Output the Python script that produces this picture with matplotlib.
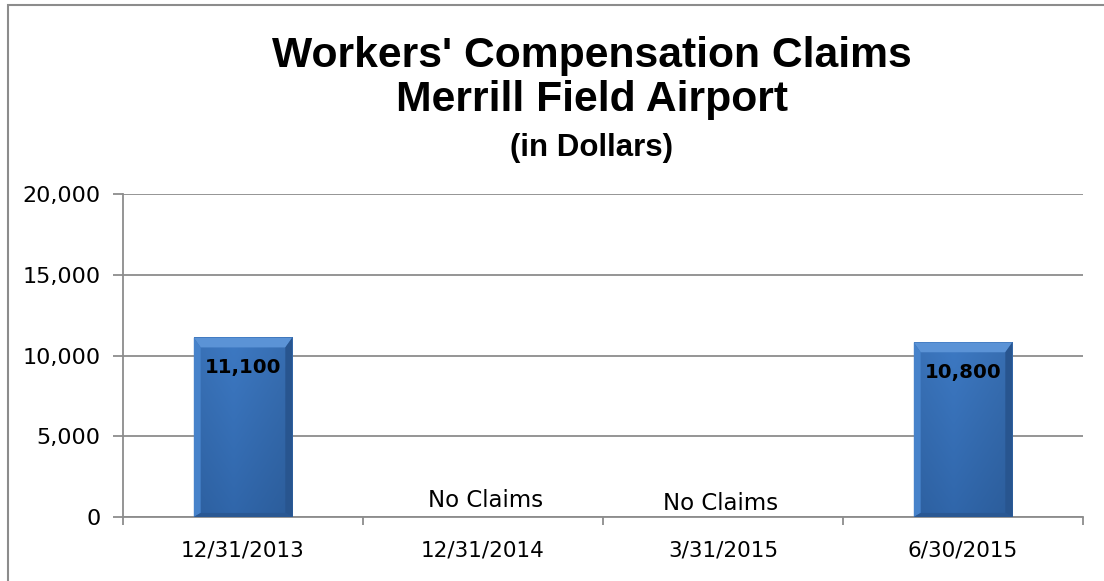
import numpy as np
import matplotlib
matplotlib.use("Agg")
from matplotlib import pyplot as plt
from matplotlib.patches import Rectangle, Polygon
from matplotlib.colors import to_rgb

# Data
categories = ["12/31/2013", "12/31/2014", "3/31/2015", "6/30/2015"]
values = [11100, 0, 0, 10800]
value_labels = ["11,100", "No Claims", "No Claims", "10,800"]
y_ticks = [0, 5000, 10000, 15000, 20000]
y_tick_labels = ["0", "5,000", "10,000", "15,000", "20,000"]

W, H = 1104, 581
fig = plt.figure(figsize=(W / 100, H / 100), dpi=100)

# outer chart frame (cut off at right and bottom like the source)
fig.patches.append(Rectangle((8 / W, -0.1), 1.2, (H - 5) / H + 0.1,
                             transform=fig.transFigure, fill=False,
                             edgecolor="#8c8c8c", linewidth=1.5))

ax = fig.add_axes([123 / W, (H - 517) / H, 960 / W, 323 / H])

x = np.arange(len(categories))
bar_w = 0.41
bars = ax.bar(x, values, width=bar_w, color="#3368ad", edgecolor="none", zorder=3)

# gradient fill + bevel for each bar
top_c = np.array(to_rgb("#3d79c3"))
bot_c = np.array(to_rgb("#3066aa"))
for b in bars:
    bh = b.get_height()
    if bh <= 0:
        continue
    bx, bw = b.get_x(), b.get_width()
    t = np.linspace(0, 1, 120)[:, None, None]
    img = top_c * (1 - t) + bot_c * t
    s = np.linspace(0, 1, 60)[None, :, None]
    shade = 1.0 - 0.08 * np.abs(s - 0.4) * 2
    img = np.clip(img * shade, 0, 1)
    ax.imshow(img, extent=(bx, bx + bw, 0, bh), aspect="auto", origin="upper",
              zorder=3, interpolation="bilinear")
    e = bw * 0.07
    ev_top = 600
    ev = 250
    # top bevel (light)
    ax.add_patch(Polygon([(bx, bh), (bx + bw, bh), (bx + bw - e, bh - ev_top), (bx + e, bh - ev_top)],
                         closed=True, facecolor="#5b93d6", edgecolor="none", zorder=3.5))
    # left bevel (light)
    ax.add_patch(Polygon([(bx, 0), (bx, bh), (bx + e, bh - ev_top), (bx + e, ev)],
                         closed=True, facecolor="#4682ca", edgecolor="none", zorder=3.5))
    # right bevel (dark)
    ax.add_patch(Polygon([(bx + bw, 0), (bx + bw, bh), (bx + bw - e, bh - ev_top), (bx + bw - e, ev)],
                         closed=True, facecolor="#28558f", edgecolor="none", zorder=3.5))
    # bottom bevel (dark)
    ax.add_patch(Polygon([(bx, 0), (bx + bw, 0), (bx + bw - e, ev), (bx + e, ev)],
                         closed=True, facecolor="#2a5893", edgecolor="none", zorder=3.5))

for xi, v, lab in zip(x, values, value_labels):
    if v > 0:
        ax.text(xi, v - 1850, lab, ha="center", va="center", fontsize=14.3,
                fontweight="bold", color="black", zorder=4)
    else:
        ax.annotate(lab, (xi, v), xytext=(2 if xi == 1 else -2, 12 if xi == 1 else 9.5),
                    textcoords="offset points", ha="center", va="center",
                    fontsize=16.5, color="black")

ax.set_ylim(0, 20000)
ax.set_xlim(-0.5, 3.5)
ax.set_yticks(y_ticks)
ax.set_yticklabels(y_tick_labels, fontsize=16)
ax.set_xticks(x)
ax.set_xticklabels(categories, fontsize=15.5)
ax.set_xticks(np.arange(-0.5, 4, 1), minor=True)
ax.tick_params(axis="x", which="major", length=0, pad=17)
ax.tick_params(axis="x", which="minor", length=6, width=1.3, color="#8c8c8c")
ax.tick_params(axis="y", length=7, width=1.3, color="#8c8c8c", pad=9)

ax.grid(axis="y", color="#8c8c8c", linewidth=1.3, zorder=0)
ax.set_axisbelow(True)
for s in ["top", "right"]:
    ax.spines[s].set_visible(False)
for s in ["left", "bottom"]:
    ax.spines[s].set_color("#8c8c8c")
    ax.spines[s].set_linewidth(1.3)

fig.text(592 / W, 1 - 56 / H, "Workers' Compensation Claims", ha="center", va="center",
         fontsize=30.7, fontweight="bold", family="Liberation Sans")
fig.text(592 / W, 1 - 100 / H, "Merrill Field Airport", ha="center", va="center",
         fontsize=30.7, fontweight="bold", family="Liberation Sans")
fig.text(592 / W, 1 - 148 / H, "(in Dollars)", ha="center", va="center",
         fontsize=22.5, fontweight="bold", family="Liberation Sans")

fig.savefig("out.png", dpi=100)
